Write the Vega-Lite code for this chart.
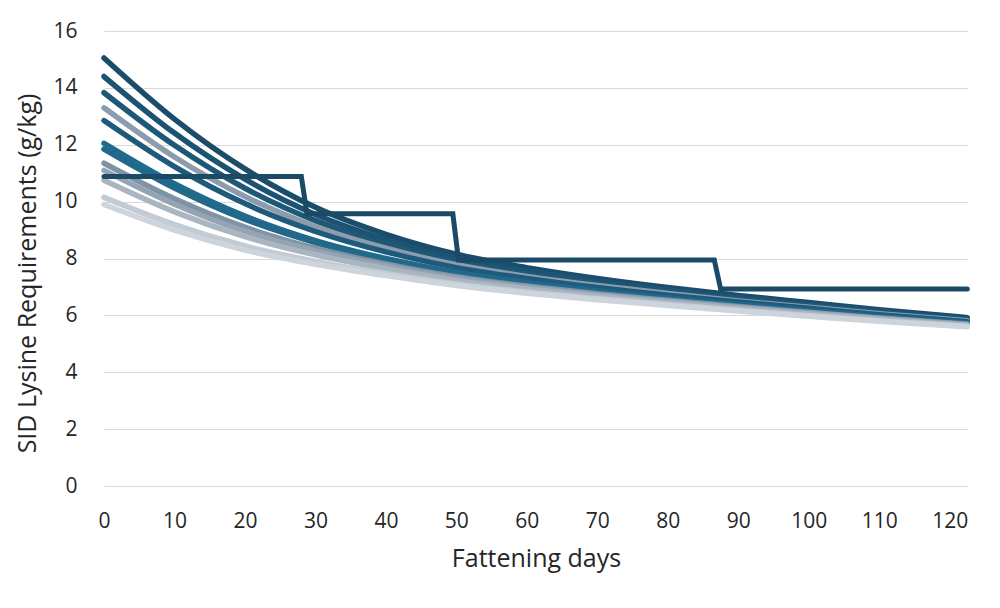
{
  "$schema": "https://vega.github.io/schema/vega-lite/v6.json",
  "width": 864,
  "height": 455,
  "autosize": {"type": "none"},
  "padding": {"left": 104, "top": 31, "right": 32, "bottom": 122},
  "background": "white",
  "config": {
    "view": {"stroke": null},
    "font": "Open Sans"
  },
  "datasets": {
    "curves": [
      {"s":"c01","d":0,"v":15.05},{"s":"c01","d":10,"v":12.9},{"s":"c01","d":20,"v":11.15},{"s":"c01","d":30,"v":9.8},{"s":"c01","d":40,"v":8.85},{"s":"c01","d":50,"v":8.15},{"s":"c01","d":60,"v":7.68},{"s":"c01","d":70,"v":7.3},{"s":"c01","d":80,"v":6.98},{"s":"c01","d":90,"v":6.7},{"s":"c01","d":100,"v":6.45},{"s":"c01","d":110,"v":6.2},{"s":"c01","d":122.5,"v":5.92},
      {"s":"c02","d":0,"v":14.4},{"s":"c02","d":10,"v":12.41},{"s":"c02","d":20,"v":10.79},{"s":"c02","d":30,"v":9.55},{"s":"c02","d":40,"v":8.67},{"s":"c02","d":50,"v":8.01},{"s":"c02","d":60,"v":7.57},{"s":"c02","d":70,"v":7.21},{"s":"c02","d":80,"v":6.9},{"s":"c02","d":90,"v":6.63},{"s":"c02","d":100,"v":6.39},{"s":"c02","d":110,"v":6.15},{"s":"c02","d":122.5,"v":5.88},
      {"s":"c03","d":0,"v":13.83},{"s":"c03","d":10,"v":11.98},{"s":"c03","d":20,"v":10.47},{"s":"c03","d":30,"v":9.33},{"s":"c03","d":40,"v":8.51},{"s":"c03","d":50,"v":7.89},{"s":"c03","d":60,"v":7.47},{"s":"c03","d":70,"v":7.12},{"s":"c03","d":80,"v":6.83},{"s":"c03","d":90,"v":6.57},{"s":"c03","d":100,"v":6.34},{"s":"c03","d":110,"v":6.1},{"s":"c03","d":122.5,"v":5.84},
      {"s":"c04","d":0,"v":13.3},{"s":"c04","d":10,"v":11.57},{"s":"c04","d":20,"v":10.18},{"s":"c04","d":30,"v":9.12},{"s":"c04","d":40,"v":8.36},{"s":"c04","d":50,"v":7.78},{"s":"c04","d":60,"v":7.37},{"s":"c04","d":70,"v":7.05},{"s":"c04","d":80,"v":6.77},{"s":"c04","d":90,"v":6.51},{"s":"c04","d":100,"v":6.29},{"s":"c04","d":110,"v":6.06},{"s":"c04","d":122.5,"v":5.81},
      {"s":"c05","d":0,"v":12.85},{"s":"c05","d":10,"v":11.23},{"s":"c05","d":20,"v":9.93},{"s":"c05","d":30,"v":8.95},{"s":"c05","d":40,"v":8.23},{"s":"c05","d":50,"v":7.68},{"s":"c05","d":60,"v":7.3},{"s":"c05","d":70,"v":6.98},{"s":"c05","d":80,"v":6.71},{"s":"c05","d":90,"v":6.47},{"s":"c05","d":100,"v":6.25},{"s":"c05","d":110,"v":6.02},{"s":"c05","d":122.5,"v":5.78},
      {"s":"c06","d":0,"v":12.05},{"s":"c06","d":10,"v":10.63},{"s":"c06","d":20,"v":9.49},{"s":"c06","d":30,"v":8.63},{"s":"c06","d":40,"v":8.0},{"s":"c06","d":50,"v":7.51},{"s":"c06","d":60,"v":7.16},{"s":"c06","d":70,"v":6.86},{"s":"c06","d":80,"v":6.61},{"s":"c06","d":90,"v":6.38},{"s":"c06","d":100,"v":6.17},{"s":"c06","d":110,"v":5.96},{"s":"c06","d":122.5,"v":5.73},
      {"s":"c07","d":0,"v":11.85},{"s":"c07","d":10,"v":10.48},{"s":"c07","d":20,"v":9.38},{"s":"c07","d":30,"v":8.56},{"s":"c07","d":40,"v":7.95},{"s":"c07","d":50,"v":7.47},{"s":"c07","d":60,"v":7.12},{"s":"c07","d":70,"v":6.83},{"s":"c07","d":80,"v":6.59},{"s":"c07","d":90,"v":6.36},{"s":"c07","d":100,"v":6.15},{"s":"c07","d":110,"v":5.95},{"s":"c07","d":122.5,"v":5.72},
      {"s":"c08","d":0,"v":11.35},{"s":"c08","d":10,"v":10.1},{"s":"c08","d":20,"v":9.1},{"s":"c08","d":30,"v":8.36},{"s":"c08","d":40,"v":7.81},{"s":"c08","d":50,"v":7.36},{"s":"c08","d":60,"v":7.03},{"s":"c08","d":70,"v":6.76},{"s":"c08","d":80,"v":6.53},{"s":"c08","d":90,"v":6.31},{"s":"c08","d":100,"v":6.11},{"s":"c08","d":110,"v":5.91},{"s":"c08","d":122.5,"v":5.69},
      {"s":"c09","d":0,"v":11.1},{"s":"c09","d":10,"v":9.91},{"s":"c09","d":20,"v":8.96},{"s":"c09","d":30,"v":8.27},{"s":"c09","d":40,"v":7.74},{"s":"c09","d":50,"v":7.31},{"s":"c09","d":60,"v":6.99},{"s":"c09","d":70,"v":6.72},{"s":"c09","d":80,"v":6.5},{"s":"c09","d":90,"v":6.28},{"s":"c09","d":100,"v":6.08},{"s":"c09","d":110,"v":5.89},{"s":"c09","d":122.5,"v":5.67},
      {"s":"c10","d":0,"v":10.75},{"s":"c10","d":10,"v":9.64},{"s":"c10","d":20,"v":8.77},{"s":"c10","d":30,"v":8.13},{"s":"c10","d":40,"v":7.64},{"s":"c10","d":50,"v":7.23},{"s":"c10","d":60,"v":6.93},{"s":"c10","d":70,"v":6.67},{"s":"c10","d":80,"v":6.45},{"s":"c10","d":90,"v":6.24},{"s":"c10","d":100,"v":6.05},{"s":"c10","d":110,"v":5.86},{"s":"c10","d":122.5,"v":5.65},
      {"s":"c11","d":0,"v":10.15},{"s":"c11","d":10,"v":9.19},{"s":"c11","d":20,"v":8.44},{"s":"c11","d":30,"v":7.9},{"s":"c11","d":40,"v":7.47},{"s":"c11","d":50,"v":7.1},{"s":"c11","d":60,"v":6.82},{"s":"c11","d":70,"v":6.59},{"s":"c11","d":80,"v":6.38},{"s":"c11","d":90,"v":6.18},{"s":"c11","d":100,"v":5.99},{"s":"c11","d":110,"v":5.81},{"s":"c11","d":122.5,"v":5.62},
      {"s":"c12","d":0,"v":9.9},{"s":"c12","d":10,"v":9.0},{"s":"c12","d":20,"v":8.3},{"s":"c12","d":30,"v":7.8},{"s":"c12","d":40,"v":7.4},{"s":"c12","d":50,"v":7.05},{"s":"c12","d":60,"v":6.78},{"s":"c12","d":70,"v":6.55},{"s":"c12","d":80,"v":6.35},{"s":"c12","d":90,"v":6.15},{"s":"c12","d":100,"v":5.97},{"s":"c12","d":110,"v":5.79},{"s":"c12","d":122.5,"v":5.6}
    ],
    "step": [
      {"d":0,"v":10.88},{"d":28,"v":10.88},{"d":28.8,"v":9.57},{"d":49.5,"v":9.57},{"d":50.3,"v":7.95},{"d":86.6,"v":7.95},{"d":87.5,"v":6.93},{"d":122.5,"v":6.93}
    ]
  },
  "encoding": {
    "x": {
      "field": "d", "type": "quantitative",
      "scale": {"domain": [0, 122.6], "nice": false, "zero": false},
      "axis": {
        "values": [0,10,20,30,40,50,60,70,80,90,100,110,120],
        "title": "Fattening days",
        "grid": false, "domain": false, "ticks": false, "tickSize": 0,
        "labelFlush": false, "labelOverlap": false,
        "labelFontSize": 21, "labelColor": "#262626", "labelPadding": 24,
        "titleFontSize": 25, "titleFontWeight": "normal", "titleColor": "#262626",
        "titleX": 432, "titleY": 72, "titleBaseline": "middle"
      }
    },
    "y": {
      "field": "v", "type": "quantitative",
      "scale": {"domain": [0, 16], "nice": false},
      "axis": {
        "values": [0,2,4,6,8,10,12,14,16],
        "title": "SID Lysine Requirements (g/kg)",
        "grid": true, "gridColor": "#d9d9d9", "gridWidth": 1.2,
        "domain": false, "ticks": false, "tickSize": 0,
        "labelFlush": false, "labelOverlap": false,
        "labelFontSize": 21, "labelColor": "#262626", "labelPadding": 27,
        "titleFontSize": 25, "titleFontWeight": "normal", "titleColor": "#262626",
        "titleX": -77, "titleY": 242, "titleBaseline": "middle", "titleAngle": -90
      }
    }
  },
  "layer": [
    {
      "data": {"name": "curves"},
      "mark": {"type": "line", "interpolate": "monotone", "strokeWidth": 5.5, "strokeCap": "round", "strokeJoin": "round"},
      "encoding": {
        "color": {
          "field": "s", "type": "nominal", "legend": null,
          "scale": {
            "domain": ["c01","c02","c03","c04","c05","c06","c07","c08","c09","c10","c11","c12"],
            "range": ["#1b4d6b","#1c5272","#1d5877","#8c9cad","#1e5a7b","#1f6a8f","#22688b","#7f93a6","#95a4b3","#a9b5c0","#c3cbd3","#cdd4db"]
          }
        }
      }
    },
    {
      "data": {"name": "step"},
      "mark": {"type": "line", "color": "#1a4a66", "strokeWidth": 5, "strokeCap": "round", "strokeJoin": "miter"},
      "encoding": {}
    }
  ]
}
